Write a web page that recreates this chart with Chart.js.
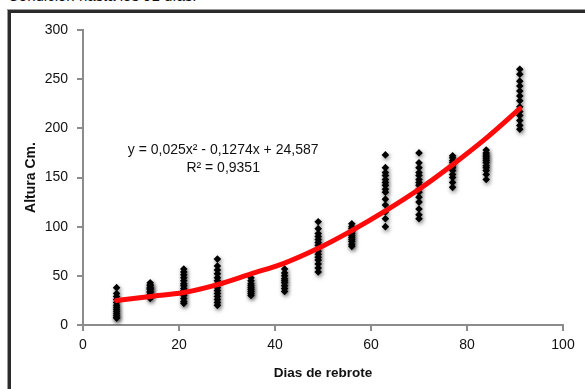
<!DOCTYPE html>
<html>
<head>
<meta charset="utf-8">
<script src="https://cdn.jsdelivr.net/npm/chart.js@4"></script>
<style>
  body { margin: 0; background: #fff; overflow: hidden; }
  #wrap { position: relative; width: 585px; height: 389px; }
  #cap { position: absolute; left: 8px; top: -12px; font: 15px "Liberation Sans", Arial, sans-serif; line-height: 15px; color: #111; white-space: nowrap; }
  #frame { position: absolute; left: 8px; top: 10px; width: 600px; height: 400px; border-left: 3px solid #2b2b2b; border-top: 3px solid #2b2b2b; box-shadow: -1px -1px 0 #9a9a9a; }
  canvas { position: absolute; left: 0; top: 0; }
</style>
</head>
<body>
<div id="wrap">
  <div id="cap">Condición hasta los 91 días.</div>
  <div id="frame"></div>
  <canvas id="chart" width="585" height="389"></canvas>
</div>
<script>
// días de rebrote (columnas de puntos)
const dias = [7, 14, 21, 28, 35, 42, 49, 56, 63, 70, 77, 84, 91];

// alturas medidas en cada día (cm)
const alturas = [
  [38, 32, 29, 26, 23, 20, 18, 16, 14, 12, 10, 8, 7],
  [43, 41, 40, 38, 37, 36, 34, 33, 31, 29, 27],
  [57, 54, 51, 48, 45, 42, 40, 37, 35, 32, 30, 27, 24, 22],
  [67, 60, 56, 52, 48, 45, 42, 38, 35, 32, 29, 26, 23, 20],
  [48, 45, 42, 40, 38, 36, 34, 32, 30],
  [57, 53, 50, 47, 45, 43, 40, 37, 34],
  [105, 98, 93, 90, 87, 84, 81, 78, 75, 72, 69, 66, 62, 58, 54],
  [103, 100, 98, 95, 93, 91, 89, 87, 85, 82, 80],
  [173, 160, 155, 152, 148, 145, 142, 138, 135, 128, 122, 115, 108, 100],
  [175, 165, 160, 155, 152, 148, 145, 142, 138, 135, 130, 125, 118, 112, 108],
  [172, 170, 167, 165, 162, 160, 157, 153, 150, 145, 140],
  [178, 175, 173, 171, 169, 167, 165, 162, 160, 157, 153, 148],
  [260, 255, 248, 243, 238, 233, 228, 222, 217, 213, 208, 203, 199]
];

const tendencia = [25, 29, 33, 41, 52, 63, 78, 96, 116, 138, 163, 190, 220];

const ecuacion = ['y = 0,025x² - 0,1274x + 24,587', 'R² = 0,9351'];
const ticksY = [0, 50, 100, 150, 200, 250, 300];
const ticksX = [0, 20, 40, 60, 80, 100];

Chart.defaults.font.family = '"Liberation Sans", Arial, sans-serif';
Chart.defaults.color = '#111';

const puntos = [];
dias.forEach((d, i) => {
  alturas[i].forEach(h => puntos.push({ x: d, y: h }));
});
const curva = dias.map((d, i) => ({ x: d, y: tendencia[i] }));

// sombra suave de los puntos
const sombra = {
  id: 'sombra',
  beforeDatasetDraw(chart, args) {
    if (args.index !== 1) return;
    const ctx = chart.ctx;
    ctx.save();
    ctx.shadowColor = 'rgba(0,0,0,0.5)';
    ctx.shadowBlur = 4;
    ctx.shadowOffsetX = 1;
    ctx.shadowOffsetY = 2;
  },
  afterDatasetDraw(chart, args) {
    if (args.index !== 1) return;
    chart.ctx.restore();
  }
};

// texto de la ecuación
const etiqueta = {
  id: 'etiqueta',
  afterDatasetsDraw(chart) {
    const ctx = chart.ctx;
    const x = chart.scales.x.getPixelForValue(29.2);
    ctx.save();
    ctx.font = '14px "Liberation Sans", Arial, sans-serif';
    ctx.fillStyle = '#111';
    ctx.textAlign = 'center';
    ctx.textBaseline = 'middle';
    ctx.fillText(ecuacion[0], x, chart.scales.y.getPixelForValue(178));
    ctx.fillText(ecuacion[1], x, chart.scales.y.getPixelForValue(160));
    ctx.restore();
  }
};

new Chart(document.getElementById('chart'), {
  type: 'scatter',
  data: {
    datasets: [
      {
        type: 'line',
        data: curva,
        borderColor: '#ff0a0a',
        borderWidth: 5,
        pointRadius: 0,
        fill: false,
        cubicInterpolationMode: 'monotone',
        borderCapStyle: 'round',
        order: 0
      },
      {
        data: puntos,
        pointStyle: 'rectRot',
        pointRadius: 3.8,
        backgroundColor: '#000',
        borderColor: '#000',
        borderWidth: 0,
        order: 1
      }
    ]
  },
  options: {
    responsive: false,
    animation: false,
    devicePixelRatio: 1,
    layout: { padding: { left: 0, right: 22, top: 30, bottom: 0 } },
    plugins: { legend: { display: false }, tooltip: { enabled: false } },
    scales: {
      x: {
        type: 'linear',
        min: 0,
        max: 100,
        afterBuildTicks: s => { s.ticks = ticksX.map(v => ({ value: v })); },
        afterFit: s => { s.height = 64; },
        border: { display: true, color: '#8c8c8c', width: 2 },
        grid: { drawOnChartArea: false, drawTicks: true, tickLength: 6, color: '#8c8c8c', lineWidth: 2 },
        ticks: { font: { size: 14 }, padding: 6, color: '#111' },
        title: { display: true, text: 'Dias de rebrote', font: { size: 13.5, weight: 'bold' }, padding: { bottom: 8 }, color: '#111' }
      },
      y: {
        type: 'linear',
        min: 0,
        max: 300,
        afterBuildTicks: s => { s.ticks = ticksY.map(v => ({ value: v })); },
        afterFit: s => { s.width = 83; },
        border: { display: true, color: '#8c8c8c', width: 2 },
        grid: { drawOnChartArea: false, drawTicks: true, tickLength: 6, color: '#8c8c8c', lineWidth: 2 },
        ticks: { font: { size: 14 }, padding: 9, color: '#111' },
        title: { display: true, text: 'Altura Cm.', font: { size: 14, weight: 'bold' }, padding: { top: 23 }, color: '#111' }
      }
    }
  },
  plugins: [sombra, etiqueta]
});
</script>
</body>
</html>
